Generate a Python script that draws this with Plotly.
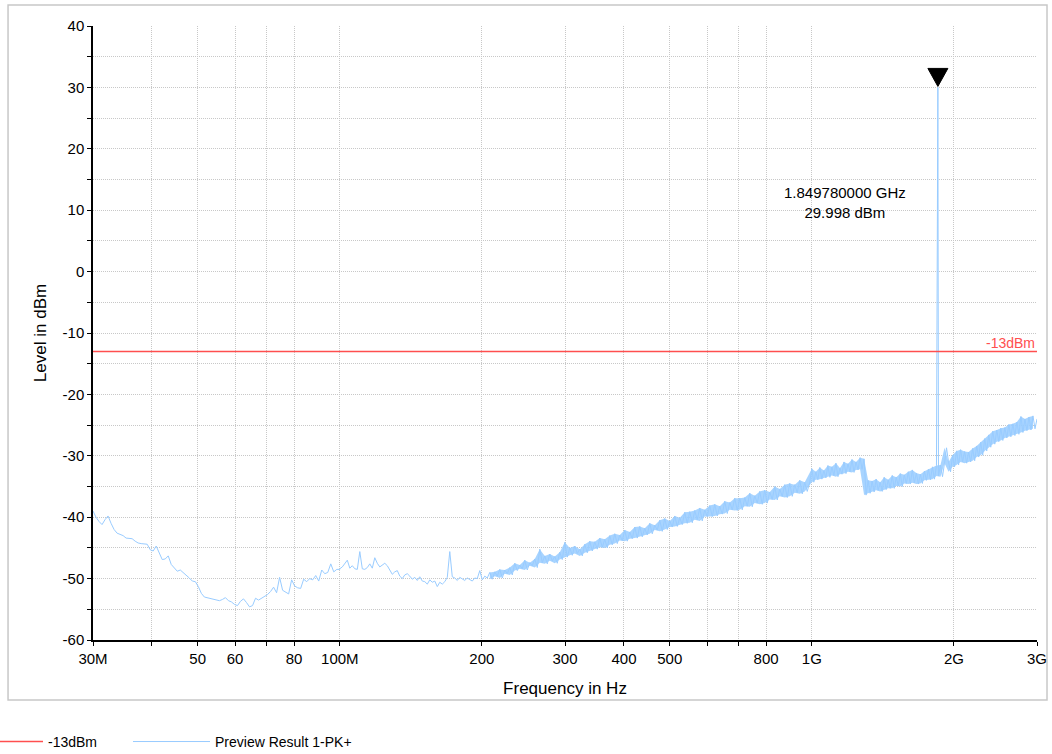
import numpy as np
import plotly.graph_objects as go

# ---------------- data (levels in dBm) ----------------
# sweep segment A: 30 MHz .. 100 MHz
seg_a_range_mhz = [30, 100]
seg_a_levels = [
    -39.0, -40.0, -40.7, -41.2, -40.4, -39.8, -41.0, -42.0, -42.6, -42.8,
    -43.0, -43.4, -43.5, -43.5, -43.9, -44.2, -44.3, -44.3, -44.4, -45.3,
    -45.5, -44.7, -45.8, -46.9, -46.8, -46.3, -47.7, -48.2, -48.8, -48.6,
    -49.0, -49.4, -49.9, -50.4, -50.5, -51.3, -52.4, -53.0, -53.1, -53.2,
    -53.4, -53.5, -53.6, -53.4, -53.1, -53.6, -53.8, -54.2, -54.4, -53.7,
    -53.3, -53.9, -54.6, -54.4, -53.2, -53.5, -53.2, -52.9, -52.6, -52.1,
    -51.4, -52.3, -49.8, -51.9, -52.2, -52.5, -50.2, -51.2, -51.5, -51.6,
    -50.1, -50.5, -50.0, -50.2, -49.5, -50.4, -48.6, -49.2, -49.0, -47.6,
    -48.9, -48.5, -48.5,
]
# sweep segment B: 100 MHz .. 990 MHz
seg_b_range_mhz = [100, 990]
seg_b_levels = [
    -48.4, -48.1, -47.6, -47.0, -48.3, -47.9, -48.4, -48.5, -45.6, -48.4,
    -48.5, -48.2, -47.6, -48.3, -46.6, -47.5, -48.1, -47.8, -47.5, -47.9,
    -48.6, -49.3, -48.9, -48.7, -49.6, -50.0, -49.4, -49.2, -49.6, -50.1,
    -49.8, -50.3, -49.7, -50.4, -50.5, -50.9, -50.2, -50.6, -50.4, -51.3,
    -50.6, -50.9, -50.5, -49.8, -45.6, -49.7, -49.9, -50.3, -49.8, -50.1,
    -50.3, -49.9, -50.2, -50.4, -49.9, -50.0, -48.7, -50.2, -49.6, -49.9,
    -49.0, -50.1, -48.9, -49.6, -48.5, -49.9, -48.6, -49.2, -48.2, -49.4,
    -47.5, -48.7, -47.8, -48.4, -47.0, -48.6, -47.4, -47.9, -46.8, -48.2,
    -45.2, -47.4, -46.3, -47.6, -46.0, -47.1, -46.4, -47.5, -45.7, -46.9,
    -44.1, -46.5, -45.0, -46.2, -44.7, -45.9, -45.2, -46.3, -44.4, -45.8,
    -43.9, -45.5, -44.0, -45.2, -43.4, -44.9, -43.6, -45.0, -43.0, -44.5,
    -42.7, -44.3, -42.9, -43.8, -42.1, -43.9, -42.4, -43.5, -41.6, -43.4,
    -41.5, -43.2, -41.8, -42.9, -41.0, -42.7, -41.3, -42.1, -40.5, -42.3,
    -40.2, -42.0, -40.6, -41.6, -39.8, -41.5, -40.1, -41.2, -39.2, -41.0,
    -39.1, -40.9, -38.9, -40.4, -38.5, -40.6, -38.8, -39.9, -38.1, -39.9,
    -37.9, -39.8, -38.2, -39.5, -37.4, -39.4, -37.6, -38.8, -36.9, -38.9,
    -36.9, -38.8, -36.8, -38.2, -36.1, -38.3, -36.5, -37.7, -35.8, -37.9,
    -35.6, -37.7, -35.9, -37.1, -35.0, -37.2, -35.4, -36.6, -34.7, -36.8,
    -34.5, -36.6, -34.7, -36.0, -34.0, -36.2, -34.3, -35.8, -34.3,
]
# sweep segment C: 1 GHz .. 3 GHz
seg_c_range_mhz = [1000, 3000]
seg_c_levels = [
    -32.1, -34.3, -32.6, -33.9, -31.9, -33.8, -32.4, -33.6, -31.6, -33.5,
    -31.8, -33.2, -31.2, -33.4, -32.0, -33.0, -31.0, -32.9, -31.3, -32.6,
    -30.6, -32.7, -31.0, -32.3, -30.3, -32.2, -30.5, -36.4, -34.0, -36.1,
    -34.1, -35.9, -33.8, -35.6, -34.3, -35.8, -33.5, -35.5, -33.9, -35.3,
    -33.2, -35.3, -33.5, -34.9, -32.9, -35.0, -33.1, -34.5, -32.6, -34.6,
    -32.3, -34.4, -32.8, -34.6, -33.0, -34.5, -32.5, -34.0, -32.2, -33.9,
    -31.8, -33.8, -31.6, -33.3, -31.5, -33.4, -31.2, -28.7, -31.0, -32.6,
    -29.9, -31.8, -29.2, -31.5, -29.0, -31.0, -29.3, -31.2, -29.4, -31.0,
    -28.8, -30.8, -28.4, -30.2, -27.8, -29.9, -27.2, -29.2, -26.6, -28.6,
    -26.0, -28.1, -25.8, -27.7, -25.5, -27.5, -25.4, -27.1, -24.9, -26.9,
    -24.8, -26.7, -24.5, -26.5, -23.6, -26.2, -24.0, -25.9, -23.7, -25.8,
    -23.5, -25.6, -24.0,
]
marker_freq_mhz = 1849.78
marker_level_dbm = 29.998
limit_dbm = -13

x_tick_mhz = [30, 40, 50, 60, 70, 80, 100, 200, 300, 400, 500, 600, 700, 800, 1000, 2000, 3000]
x_tick_text = ["30M", "", "50", "60", "", "80", "100M", "200", "300", "400", "500", "", "", "800", "1G", "2G", "3G"]
y_tick_vals = list(range(-60, 45, 5))
y_tick_text = [str(v) if v % 10 == 0 else "" for v in y_tick_vals]

# ---------------- build the sweep ----------------
freq_a = np.geomspace(seg_a_range_mhz[0], seg_a_range_mhz[1], len(seg_a_levels)) * 1e6
freq_b = np.geomspace(seg_b_range_mhz[0], seg_b_range_mhz[1], len(seg_b_levels)) * 1e6
freq_c = np.geomspace(seg_c_range_mhz[0], seg_c_range_mhz[1], len(seg_c_levels)) * 1e6

freqs = list(freq_a) + list(freq_b) + list(freq_c) + [marker_freq_mhz * 1e6]
levels = list(seg_a_levels) + list(seg_b_levels) + list(seg_c_levels) + [marker_level_dbm]
order = np.argsort(freqs)
freqs = np.array(freqs)[order]
levels = np.array(levels)[order]

# min/max envelope of the dense (noisy) part of the sweep, pairwise from the read values
band_f = np.concatenate([freq_b[60:188], freq_c[:112]])
band_l = np.concatenate([np.array(seg_b_levels[60:188]), np.array(seg_c_levels[:112])])
env_f = band_f[0::2]
env_hi = np.maximum(band_l[0::2], band_l[1::2])
env_lo = np.minimum(band_l[0::2], band_l[1::2])

FONT = "Liberation Sans, Arial, sans-serif"
BLUE = "#99ccff"
RED = "#ff4f4f"

fig = go.Figure()
fig.add_trace(go.Scatter(
    x=env_f, y=env_lo, mode="lines", line=dict(width=0, color=BLUE),
    showlegend=False, hoverinfo="skip", legendgroup="pk",
))
fig.add_trace(go.Scatter(
    x=env_f, y=env_hi, mode="lines", line=dict(width=0, color=BLUE),
    fill="tonexty", fillcolor="rgba(153,204,255,0.85)", showlegend=False,
    hoverinfo="skip", legendgroup="pk",
))
fig.add_trace(go.Scatter(
    x=freqs, y=levels, mode="lines", name="Preview Result 1-PK+",
    line=dict(color=BLUE, width=1), legend="legend2", legendgroup="pk",
    hoverinfo="skip",
))
fig.add_trace(go.Scatter(
    x=[x_tick_mhz[0] * 1e6, x_tick_mhz[-1] * 1e6], y=[limit_dbm, limit_dbm],
    mode="lines", name="-13dBm", line=dict(color=RED, width=1.5), legend="legend",
    hoverinfo="skip",
))

# marker triangle (tip on the peak)
fig.add_shape(
    type="path", xref="x", yref="y", xsizemode="pixel", ysizemode="pixel",
    xanchor=marker_freq_mhz * 1e6, yanchor=marker_level_dbm,
    path="M -10,19 L 10,19 L 0,1 Z", fillcolor="black", line=dict(color="black", width=1),
)
fig.add_annotation(
    xref="paper", yref="paper", x=0.7966, y=0.713, xanchor="center", yanchor="middle",
    text=f"{marker_freq_mhz / 1000:.9f} GHz<br>{marker_level_dbm:.3f} dBm",
    showarrow=False, font=dict(family=FONT, size=15, color="black"), align="center",
)
fig.add_annotation(
    xref="paper", yref="y", x=1.0, y=limit_dbm, xanchor="right", yanchor="bottom",
    text=f"{limit_dbm}dBm", showarrow=False, font=dict(family=FONT, size=14, color=RED),
    yshift=-2,
)
# outer frame
fig.add_shape(
    type="rect", xref="paper", yref="paper", x0=-0.09, x1=1.0106, y0=-0.0977, y1=1.034,
    line=dict(color="#c8c8c8", width=1.5), layer="below",
)

fig.update_layout(
    width=1052, height=754,
    margin=dict(l=93, r=15, t=26, b=114, autoexpand=False),
    paper_bgcolor="white", plot_bgcolor="white",
    font=dict(family=FONT, size=15, color="black"),
    showlegend=True,
    legend=dict(
        orientation="h", x=-12 / 944 - 93 / 944, xanchor="left", y=-0.166, yanchor="middle",
        font=dict(family=FONT, size=14), itemwidth=50, bgcolor="rgba(0,0,0,0)",
    ),
    legend2=dict(
        orientation="h", x=(128 - 93) / 944, xanchor="left", y=-0.166, yanchor="middle",
        font=dict(family=FONT, size=14), itemwidth=77, bgcolor="rgba(0,0,0,0)",
    ),
    xaxis=dict(
        type="log", range=[np.log10(30e6), np.log10(3e9)],
        tickvals=[v * 1e6 for v in x_tick_mhz], ticktext=x_tick_text,
        showgrid=True, gridcolor="#c8c8c8", griddash="1px,1px", gridwidth=1,
        showline=True, linecolor="black", linewidth=1.5,
        ticks="outside", ticklen=4, tickcolor="black", tickwidth=1,
        title=dict(text="Frequency in Hz", font=dict(size=17), standoff=16),
        zeroline=False, automargin=False,
    ),
    yaxis=dict(
        range=[-60, 40], tickvals=y_tick_vals, ticktext=y_tick_text,
        showgrid=True, gridcolor="#c8c8c8", griddash="1px,1px", gridwidth=1,
        showline=True, linecolor="black", linewidth=1.5,
        ticks="outside", ticklen=4, tickcolor="black", tickwidth=1,
        title=dict(text="Level in dBm", font=dict(size=17), standoff=12),
        zeroline=False, automargin=False,
    ),
)

fig.write_html("out.html")
